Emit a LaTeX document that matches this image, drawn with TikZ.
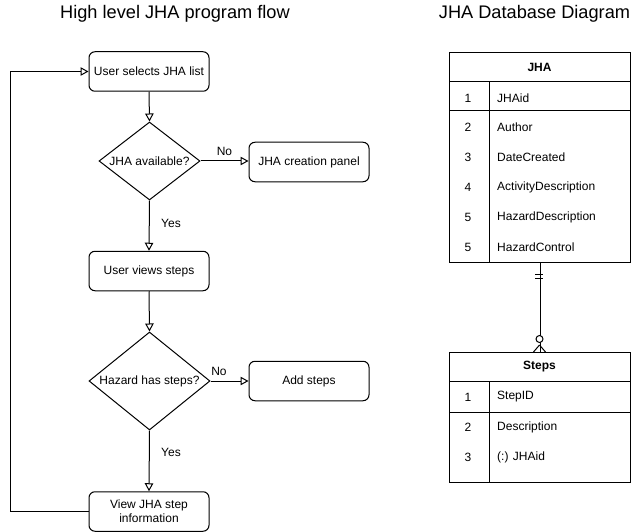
\documentclass[tikz,border=0pt]{standalone}
\usepackage{fontspec}
\setmainfont{Liberation Sans}
\usetikzlibrary{arrows.meta,shapes.geometric}
\begin{document}
\begin{tikzpicture}[x=1pt,y=-1pt,
  every node/.style={font=\fontsize{12}{14}\selectfont, inner sep=0pt},
  flowbox/.style={draw, rounded corners=6pt, line width=1pt, minimum width=120pt, minimum height=39.5pt, align=center},
  decision/.style={draw, diamond, line width=1pt, inner sep=0pt},
  flowarrow/.style={line width=1pt, -{Triangle[open,length=8pt,width=8.5pt]}},
  titletext/.style={font=\fontsize{18.2}{22}\selectfont},
  tablebox/.style={draw, line width=1pt, anchor=north west, inner sep=0pt},
  tline/.style={line width=1pt},
  fieldnum/.style={anchor=center},
  fieldname/.style={anchor=west}
]
\useasboundingbox (0,0) rectangle (640,532);

% titles
\node[titletext] (t1) at (175,14) {High level JHA program flow};
\node[titletext] (t2) at (534.5,14) {JHA Database Diagram};

% flowchart
\node[flowbox] (b1) at (149,71.5) {User selects JHA list};
\node[decision, minimum width=101pt, minimum height=78pt] (d1) at (149.5,161) {};
\node (d1t) at (d1.center) {JHA available?};
\node[flowbox] (cp) at (309,162) {JHA creation panel};
\node[flowbox] (b2) at (149,271) {User views steps};
\node[decision, minimum width=121pt, minimum height=98pt] (d2) at (149.5,381) {};
\node (d2t) at (d2.center) {Hazard has steps?};
\node[flowbox] (as) at (309,381) {Add steps};
\node[flowbox] (b3) at (149,511.5) {View JHA step\\information};

\draw[flowarrow] (b1.south) -- (d1.north);
\draw[flowarrow] (d1.east) -- (d1.east -| cp.west);
\draw[flowarrow] (d1.south) -- (b2.north);
\draw[flowarrow] (b2.south) -- (d2.north);
\draw[flowarrow] (d2.east) -- (as.west);
\draw[flowarrow] (d2.south) -- (b3.north);
\coordinate (loopc) at (10,511.5);
\draw[flowarrow] (b3.west) -- (loopc) |- (b1.west);

\node (no1) at (224.5,151) {No};
\node (yes1) at (171,223) {Yes};
\node (no2) at (219,371) {No};
\node (yes2) at (171,452) {Yes};

% JHA table
\node[tablebox, minimum width=181pt, minimum height=210pt] (jha) at (449,52) {};
\draw[tline] (449,82) -- (630,82);
\draw[tline] (449,111) -- (630,111);
\draw[tline] (489,82) -- (489,262);
\node[font=\fontsize{12}{14}\selectfont\bfseries] (jhah) at (539.5,67) {JHA};
\node[fieldnum] (n1) at (468,98) {1};
\node[fieldname] (f1) at (497,98) {JHAid};
\node[fieldnum] (n2) at (468,127) {2};
\node[fieldname] (f2) at (497,127) {Author};
\node[fieldnum] (n3) at (468,157) {3};
\node[fieldname] (f3) at (497,157) {DateCreated};
\node[fieldnum] (n4) at (468,187) {4};
\node[fieldname] (f4) at (497,187) {ActivityDescription};
\node[fieldnum] (n5) at (468,217) {5};
\node[fieldname] (f5) at (497,217) {HazardDescription};
\node[fieldnum] (n6) at (468,247) {5};
\node[fieldname] (f6) at (497,247) {HazardControl};

% Steps table
\node[tablebox, minimum width=181pt, minimum height=130pt] (steps) at (449,352) {};
\draw[tline] (449,381) -- (630,381);
\draw[tline] (449,412) -- (630,412);
\draw[tline] (489,381) -- (489,482);
\node[font=\fontsize{12}{14}\selectfont\bfseries] (stepsh) at (539.5,367) {Steps};
\node[fieldnum] (s1n) at (468,397) {1};
\node[fieldname] (s1) at (497,397) {StepID};
\node[fieldnum] (s2n) at (468,427) {2};
\node[fieldname] (s2) at (497,427) {Description};
\node[fieldnum] (s3n) at (468,457) {3};
\node[fieldname] (s3) at (497,457) {(:) JHAid};

% relationship
\draw[tline] (jha.south) -- (steps.north);
\draw[tline] (535,274.5) -- (543,274.5);
\draw[tline] (535,278) -- (543,278);
\draw[tline, fill=white] (539.5,339) circle (3.5pt);
\draw[tline] (539.5,345) -- (533.5,352);
\draw[tline] (539.5,345) -- (545.5,352);
\end{tikzpicture}
\end{document}
